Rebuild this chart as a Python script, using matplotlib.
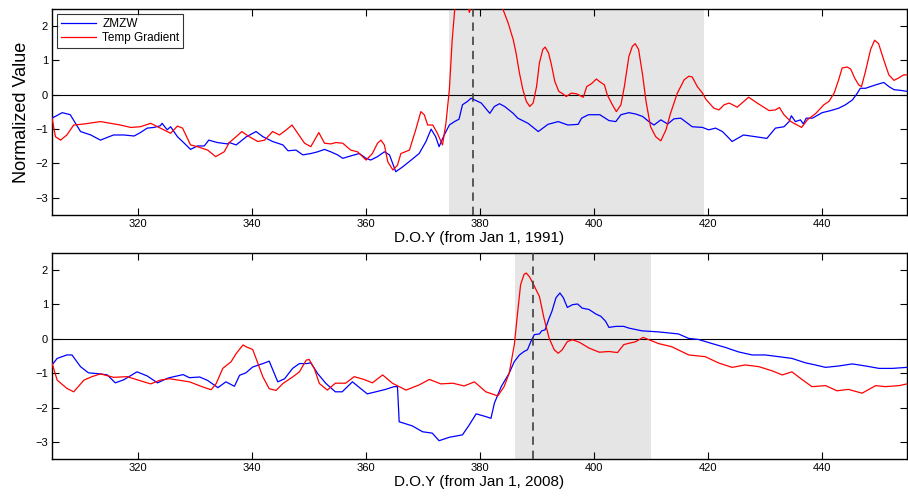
import numpy as np
import matplotlib
matplotlib.use('Agg')
import matplotlib.pyplot as plt

plt.rcParams['font.family'] = ['Liberation Sans', 'DejaVu Sans']

# 1991 event (top panel)
doy_zmzw_1991 = [305, 306.8, 308.2, 310, 311.8, 313.5, 314.7, 315.8, 317.6, 319.4, 320.5, 321.7,
                 322.9, 324, 324.3, 325.2, 325.8, 327, 328.2, 329.3, 330.5, 331.7, 332.5, 334,
                 335.8, 336.1, 337.3, 339.1, 340.8, 342, 343.7, 345.5, 346.4, 347.8, 349, 350.4,
                 351.6, 352.8, 353.9, 355.1, 356, 357.4, 358.9, 360.1, 360.9, 362.1, 363.3,
                 364.2, 365.3, 366.5, 368, 369.4, 370.6, 371.5, 372.3, 372.9, 373.8, 374.7,
                 375.6, 376.4, 377, 377.9, 378.5, 380.3, 381.8, 382.6, 383.5, 384.4, 385.9,
                 386.7, 388.5, 390.3, 392, 393.8, 395.5, 397.3, 397.9, 399.1, 401.1, 402.7,
                 403.9, 404.8, 406.2, 407.4, 408.6, 409.7, 410.6, 411.8, 413, 414.1, 415.3,
                 416.5, 417.3, 419.1, 420.2, 421.4, 422.6, 423.5, 424.3, 426.3, 428.4, 430.4,
                 431.9, 433.4, 434.3, 434.7, 435.4, 436.3, 436.8, 437.3, 438.4, 440.1, 441.6,
                 443, 444.2, 445.4, 446.2, 446.8, 447.7, 449.5, 450.9, 451.8, 452.7, 453.8, 455]
zmzw_1991 = [-0.68, -0.52, -0.58, -1.07, -1.17, -1.32, -1.24, -1.17, -1.17, -1.2, -1.1, -0.97,
             -0.95, -0.9, -0.83, -1.02, -0.93, -1.22, -1.41, -1.59, -1.49, -1.49, -1.32, -1.39,
             -1.43, -1.39, -1.46, -1.22, -1.07, -1.22, -1.36, -1.46, -1.63, -1.61, -1.75, -1.71,
             -1.66, -1.59, -1.66, -1.75, -1.85, -1.78, -1.71, -1.85, -1.9, -1.8, -1.66,
             -1.75, -2.24, -2.1, -1.9, -1.71, -1.36, -1.0, -1.22, -1.51, -1.17, -0.88,
             -0.78, -0.71, -0.29, -0.19, -0.1, -0.24, -0.54, -0.34, -0.26, -0.34, -0.54,
             -0.68, -0.83, -1.07, -0.86, -0.78, -0.88, -0.86, -0.68, -0.58, -0.58, -0.75,
             -0.78, -0.58, -0.52, -0.56, -0.63, -0.78, -0.88, -0.73, -0.85, -0.7, -0.68,
             -0.83, -0.93, -0.95, -1.02, -0.97, -1.07, -1.22, -1.36, -1.17, -1.22, -1.27,
             -0.97, -0.93, -0.78, -0.61, -0.78, -0.73, -0.85, -0.68, -0.68, -0.52, -0.46,
             -0.39, -0.29, -0.15, 0.03, 0.19, 0.19, 0.29, 0.36, 0.24, 0.15, 0.13, 0.1]

doy_temp_1991 = [305, 305.6, 306.5, 307.6, 308.8, 310.6, 312.3, 313.5, 315.3, 317, 318.8, 320.5,
                 322.3, 323.5, 324.6, 325.8, 327, 327.9, 329.3, 330.5, 332.3, 333.7, 335.2,
                 336.1, 337.3, 338.3, 339.6, 341.1, 342.3, 343.7, 344.9, 346.1, 347.1, 348.1,
                 349.3, 350.4, 351.8, 352.8, 353.9, 354.8, 356, 357.4, 358.6, 360.1, 361.2,
                 362.1, 362.7, 363.3, 363.9, 364.8, 365.6, 366.2, 367.7, 368.8, 369.7, 370.3,
                 370.9, 371.8, 372.6, 373.5, 374.1, 374.7, 375.2, 375.8, 376.8, 377.6, 378.2,
                 378.8, 380.5, 382.5, 384.1, 385, 385.9, 386.4, 387, 387.6, 388.2, 388.8, 389.4,
                 390, 390.5, 391.1, 391.5, 392.1, 392.6, 393.2, 393.9, 394.6, 395.2, 396.1,
                 397, 398.2, 398.8, 399.6, 400.5, 401, 401.9, 402.4, 403.3, 404, 404.8, 405.4,
                 406.2, 406.8, 407.3, 407.9, 408.6, 409.2, 410, 410.9, 411.8, 412.7, 413.5,
                 414.7, 415.9, 416.7, 417.3, 418.2, 419.1, 419.7, 421.1, 422, 422.9, 423.8,
                 425.2, 427.2, 428.7, 430.8, 431.9, 432.6, 433.4, 434.6, 435.7, 436.5, 437.5,
                 439, 440.4, 441.3, 442.2, 443, 443.6, 444.5, 445.1, 445.8, 446.5, 447, 447.7,
                 448.6, 449.3, 450, 450.9, 451.8, 452.7, 453.5, 454.4, 455]
temp_1991 = [-0.68, -1.22, -1.32, -1.17, -0.88, -0.85, -0.81, -0.78, -0.83, -0.88, -0.95, -0.93,
             -0.83, -0.93, -1.02, -1.12, -0.91, -0.97, -1.46, -1.51, -1.61, -1.8, -1.66,
             -1.39, -1.22, -1.07, -1.22, -1.36, -1.32, -1.07, -1.17, -1.02, -0.88, -1.12,
             -1.41, -1.51, -1.1, -1.41, -1.43, -1.39, -1.41, -1.61, -1.66, -1.9, -1.71,
             -1.41, -1.32, -1.46, -1.95, -2.19, -2.05, -1.71, -1.61, -1.02, -0.49, -0.58,
             -0.88, -0.88, -1.12, -1.46, -0.83, 0.15, 1.6, 2.8, 3.4, 3.0, 2.4,
             2.7, 3.3, 3.1, 2.49, 2.1, 1.61, 1.22, 0.63, 0.15, -0.19, -0.34, -0.24,
             0.24, 0.93, 1.32, 1.39, 1.22, 0.88, 0.39, 0.1, 0.03, -0.05, 0.05,
             0.03, -0.07, 0.24, 0.32, 0.46, 0.39, 0.29, 0.0, -0.29, -0.49, -0.29, 0.24,
             1.12, 1.41, 1.49, 1.32, 0.58, -0.19, -0.93, -1.22, -1.34, -1.02, -0.54,
             0.05, 0.44, 0.54, 0.52, 0.24, 0.05, -0.13, -0.39, -0.44, -0.29, -0.24,
             -0.36, -0.07, -0.24, -0.46, -0.44, -0.37, -0.58, -0.78, -0.88, -0.95, -0.73,
             -0.54, -0.29, -0.19, 0.05, 0.44, 0.78, 0.81, 0.75, 0.49, 0.29, 0.24, 0.68,
             1.32, 1.59, 1.49, 1.02, 0.58, 0.42, 0.49, 0.58, 0.58]

# 2008 event (bottom panel)
doy_zmzw_2008 = [305, 305.9, 307.6, 308.5, 310, 311.4, 313.5, 314.7, 316.1, 317.6, 319.9, 321.7,
                 323.5, 325.2, 325.6, 328, 329.1, 330.9, 332.3, 334.1, 335.5, 337, 337.9, 339,
                 340.2, 341.1, 342, 343.1, 343.7, 344.6, 345.8, 347.2, 348.4, 349.6, 350.4,
                 351.6, 353, 354.7, 355.9, 357.7, 359.1, 360.3, 361.8, 363.5, 365, 365.6, 365.9,
                 368.2, 370, 371.7, 372.9, 374.7, 377, 378.2, 379.4, 381.1, 382, 382.6, 383.8,
                 385.2, 386.1, 387, 387.8, 388.4, 389, 389.6, 390.5, 390.9, 391.5, 392.1, 392.7,
                 393.4, 394.1, 394.7, 395.4, 396.3, 397.2, 398, 399.2, 400.4, 401.3, 402.1,
                 402.7, 403.9, 405.3, 406.2, 408.5, 411.4, 414.9, 416.7, 418.4, 420.8, 423.1,
                 425.4, 427.8, 430.1, 432.5, 434.8, 437.2, 438.9, 440.7, 443, 445.4, 447.7,
                 450.1, 452.4, 455]
zmzw_2008 = [-0.76, -0.57, -0.47, -0.47, -0.81, -0.99, -1.02, -1.05, -1.28, -1.19, -0.96, -1.08,
             -1.28, -1.15, -1.13, -1.04, -1.13, -1.11, -1.21, -1.42, -1.25, -1.38, -1.06, -0.99,
             -0.82, -0.77, -0.72, -0.65, -0.89, -1.25, -1.16, -0.86, -0.72, -0.72, -0.7,
             -1.01, -1.29, -1.54, -1.54, -1.25, -1.44, -1.6, -1.54, -1.47, -1.39, -1.39, -2.41,
             -2.53, -2.7, -2.74, -2.96, -2.86, -2.79, -2.5, -2.18, -2.26, -2.31, -1.87, -1.39,
             -1.0, -0.66, -0.47, -0.37, -0.32, -0.08, 0.12, 0.14, 0.23, 0.26, 0.55, 0.8,
             1.19, 1.33, 1.19, 0.91, 0.99, 1.01, 0.89, 0.85, 0.72, 0.65, 0.51,
             0.33, 0.36, 0.36, 0.31, 0.23, 0.2, 0.14, 0.01, -0.02, -0.14, -0.25,
             -0.38, -0.47, -0.47, -0.52, -0.57, -0.7, -0.76, -0.83, -0.79, -0.73, -0.79,
             -0.86, -0.86, -0.83]

doy_temp_2008 = [305, 305.9, 307.6, 308.8, 310.6, 312, 313.5, 315.8, 318.2, 320.5, 322.3, 324,
                 325.6, 329.1, 331.45, 332.9, 333.8, 334.95, 336.4, 337.3, 338.5, 339, 340.2,
                 340.9, 342, 343.1, 344.3, 345.5, 347.2, 348.4, 349.6, 350.1, 351, 351.9, 353.3,
                 354.7, 356.5, 358, 359.7, 361.2, 363, 364.7, 367.1, 369.4, 371.2, 373.2,
                 375.3, 377.3, 379.1, 381.1, 383.2, 384.3, 385.2, 386.1, 386.7, 387.2, 387.8,
                 388.2, 388.8, 389.6, 390.5, 391.3, 392.2, 393.1, 393.8, 394.5, 395.4, 396.3,
                 397.5, 399.2, 401, 402.7, 404.2, 405.3, 406.2, 407.3, 408.7, 409.9, 411.4,
                 413.7, 416.7, 419.6, 421.9, 424.3, 426.6, 429, 431.3, 433.1, 434.8, 436.3,
                 438.3, 440.7, 442.7, 444.7, 447.1, 449.5, 451.2, 453.6, 455]
temp_2008 = [-0.71, -1.2, -1.44, -1.54, -1.2, -1.1, -1.02, -1.12, -1.1, -1.22, -1.31, -1.2,
             -1.16, -1.25, -1.4, -1.48, -1.3, -0.86, -0.67, -0.43, -0.18, -0.23, -0.31,
             -0.62, -1.11, -1.45, -1.5, -1.3, -1.11, -0.96, -0.62, -0.6, -0.86, -1.3, -1.49,
             -1.29, -1.29, -1.1, -1.18, -1.28, -1.05, -1.29, -1.49, -1.34, -1.18, -1.31,
             -1.29, -1.37, -1.25, -1.54, -1.66, -1.39, -1.0, -0.17, 0.8, 1.57, 1.87,
             1.91, 1.79, 1.53, 1.23, 0.6, 0.02, -0.32, -0.42, -0.32, -0.08, -0.03,
             -0.1, -0.27, -0.39, -0.37, -0.4, -0.17, -0.13, -0.09, 0.04, -0.04, -0.14,
             -0.23, -0.47, -0.52, -0.7, -0.83, -0.76, -0.81, -0.93, -1.05, -0.96, -1.15,
             -1.39, -1.36, -1.51, -1.47, -1.58, -1.36, -1.39, -1.36, -1.31]

# shaded windows and event day
shade_1991 = (374.7, 419.4)
event_1991 = 378.8
shade_2008 = (386.3, 410.1)
event_2008 = 389.3


def draw_panel(ax, d_z, z, d_t, t, shade, event, year):
    ax.axvspan(shade[0], shade[1], color='#e5e5e5', lw=0, zorder=0)
    ax.axhline(0, color='k', lw=0.8, zorder=1)
    ax.plot(d_z, z, color='b', lw=0.9, label='ZMZW', zorder=3)
    ax.plot(d_t, t, color='r', lw=0.9, label='Temp Gradient', zorder=3)
    ax.axvline(event, color='0.25', lw=1.2, ls=(0, (5, 3.5)), zorder=4)
    ax.set_xlim(305, 455)
    ax.set_ylim(-3.5, 2.5)
    ax.set_xticks([320, 340, 360, 380, 400, 420, 440])
    ax.set_yticks([-3, -2, -1, 0, 1, 2])
    ax.set_yticklabels(['\u22123', '\u22122', '\u22121', '0', '1', '2'])
    ax.tick_params(direction='in', length=5, width=0.8, labelsize=8,
                   top=True, right=True, pad=3)
    for s in ax.spines.values():
        s.set_linewidth(1.0)
    ax.set_xlabel('D.O.Y (from Jan 1, %d)' % year, fontsize=11, labelpad=1)


fig = plt.figure(figsize=(9.08, 4.98), dpi=100)
ax1 = fig.add_axes([0.0573, 0.5683, 0.9417, 0.4137])
ax2 = fig.add_axes([0.0573, 0.0777, 0.9417, 0.4149])

draw_panel(ax1, doy_zmzw_1991, zmzw_1991, doy_temp_1991, temp_1991, shade_1991, event_1991, 1991)
draw_panel(ax2, doy_zmzw_2008, zmzw_2008, doy_temp_2008, temp_2008, shade_2008, event_2008, 2008)

ax1.set_ylabel('Normalized Value', fontsize=13, labelpad=4)
leg = ax1.legend(loc='upper left', fontsize=8.5, frameon=True, fancybox=False,
                 edgecolor='k', borderaxespad=0.4, handlelength=3.0, borderpad=0.35,
                 labelspacing=0.2, handletextpad=0.5)
leg.get_frame().set_linewidth(0.8)

fig.savefig('out.png', dpi=100)
